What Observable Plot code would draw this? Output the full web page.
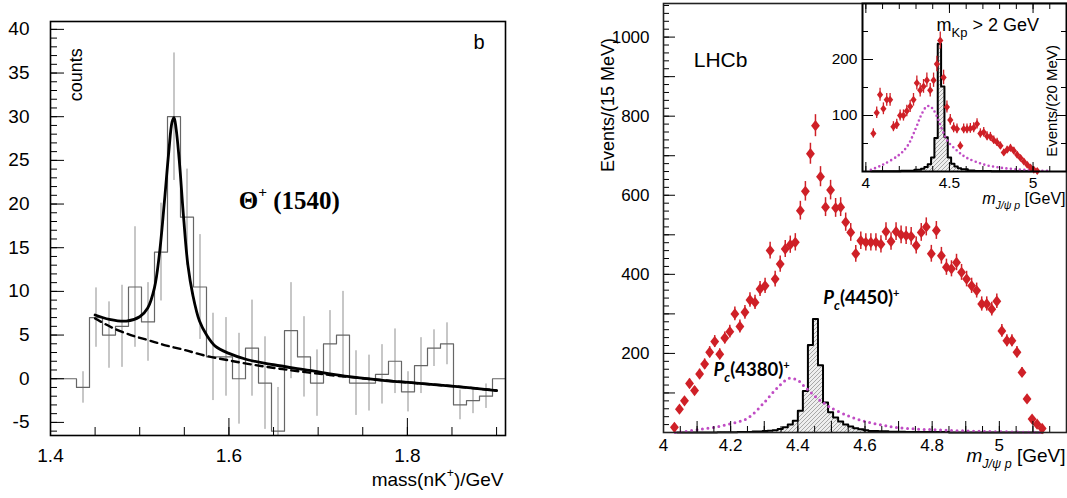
<!DOCTYPE html>
<html><head><meta charset="utf-8">
<script src="https://cdn.jsdelivr.net/npm/d3@7"></script>
<script src="https://cdn.jsdelivr.net/npm/@observablehq/plot@0.6"></script>
<style>
html,body{margin:0;padding:0;background:#fff;}
#wrap{position:relative;width:1067px;height:498px;overflow:hidden;background:#fff;}
#wrap > svg{position:absolute;}
</style></head><body><div id="wrap"></div>
<script>
// ================= LEFT PANEL: Theta+(1540) =================
const thetaRange = [1.40, 1.91];          // 35 equal bins across the frame
const thetaCounts = [0, 0, -1, 7, 5, 6, 10.5, 6.5, 14.5, 30, 18.5, 10.5, 2.5, 2.5, 0, 3.5, -0.5, -6, 5.5, 2.5,
                     -0.5, 4, 5, -0.5, -0.5, 0.5, 2, -1.5, 1.5, 3.5, 4, -3, -2.5, -2, 0];
const thetaErrors = [0, 0, 1.8, 3.4, 3.8, 4.7, 6.9, 4.5, 5.6, 7.3, 5.5, 6.0, 5.0, 4.5, 5.2, 5.5, 5.3, 5.0, 5.5, 4.6,
                     3.8, 3.8, 5.0, 3.7, 3.2, 3.4, 3.7, 2.3, 3.2, 2.1, 2.4, 1.7, 1.5, 1.4, 0];
const fitMass   = [1.45, 1.466, 1.485, 1.5, 1.509, 1.5165, 1.522, 1.5277, 1.5326, 1.5363, 1.5385, 1.5408, 1.5445, 1.549,
                   1.554, 1.5595, 1.567, 1.575, 1.585, 1.6, 1.62, 1.65, 1.69, 1.73, 1.77, 1.81, 1.85, 1.9];
const fitCounts = [7.3, 6.8, 6.6, 7.1, 8.1, 10.4, 14.2, 20.3, 26, 29.4, 29.9, 28.6, 24.8, 18.7,
                   13, 9.6, 6.6, 5.0, 3.7, 2.9, 2.2, 1.6, 0.95, 0.3, -0.15, -0.5, -0.85, -1.35];
const bgMass   = [1.45, 1.47, 1.49, 1.51, 1.53, 1.55, 1.575, 1.6, 1.63, 1.66, 1.69, 1.72, 1.77, 1.85, 1.9];
const bgCounts = [6.9, 5.8, 5.0, 4.4, 3.8, 3.3, 2.6, 2.1, 1.55, 1.1, 0.7, 0.35, -0.15, -0.85, -1.35];
const thetaYLabels = [-5, 0, 5, 10, 15, 20, 25, 30, 35, 40];
const thetaXLabels = [1.4, 1.6, 1.8];

// ================= RIGHT PANEL: LHCb =================
const lhcbBinStart = 4.025, lhcbBinWidth = 0.015;   // 15 MeV bins
const lhcbCounts = [13, 59, 80, 124, 106, 148, 173, 203, 230, 198,
  239, 255, 300, 268, 304, 335, 329, 363, 371, 460,
  388, 426, 464, 475, 481, 561, 610, 705, 776, 647,
  570, 613, 568, 570, 532, 506, 452, 485, 481, 481,
  481, 476, 508, 483, 508, 500, 498, 496, 473, 506,
  520, 452, 511, 447, 418, 414, 430, 405, 388, 371,
  359, 325, 325, 312, 332, 257, 232, 232, 203, 152,
  85, 34, 21, 10];
const pc4450Edges = [4.04, 4.16, 4.22, 4.265, 4.295, 4.31, 4.325, 4.34, 4.355, 4.37, 4.385, 4.40, 4.415, 4.43, 4.445,
  4.46, 4.475, 4.49, 4.505, 4.52, 4.535, 4.55, 4.565, 4.58, 4.595, 4.61, 4.64, 4.67, 4.72, 4.85, 5.13];
const pc4450Values = [0.3, 0.8, 1.5, 2.5, 3.5, 4.5, 6, 9, 13, 20, 30, 55, 105, 221, 287, 170, 76, 51, 38, 28,
  20, 15, 11, 8, 6, 4, 3, 2, 1, 0.3];
const pc4380Mass   = [4.035, 4.06, 4.1, 4.15, 4.2, 4.25, 4.3, 4.33, 4.35, 4.375, 4.40, 4.42, 4.44, 4.46, 4.48, 4.50,
  4.55, 4.60, 4.65, 4.70, 4.80, 4.90, 5.00, 5.13];
const pc4380Counts = [0, 2, 7, 13, 22, 36, 76, 105, 122, 137, 132, 116, 100, 85, 73, 62, 42, 28, 19, 12, 7, 4, 2, 0];
const mainYLabels = [200, 400, 600, 800, 1000];
const mainXLabels = [4, 4.2, 4.4, 4.6, 4.8, 5];

// ---- inset (m_Kp > 2 GeV) ----
const insetBinStart = 4.035, insetBinWidth = 0.02;  // 20 MeV bins
const insetCounts = [68, 105, 137, 112, 128, 128, 80, 84, 100, 100,
  108, 116, 128, 158, 145, 152, 163, 145, 163, 192,
  234, 168, 115, 92, 78, 76, 46, 76, 76, 77,
  78, 85, 68, 70, 63, 62, 56, 52, 46, 34,
  39, 42, 37, 30, 24, 18, 12, 7, 3, 1];
const insetPc4450Edges = [4.03, 4.21, 4.29, 4.33, 4.35, 4.37, 4.39, 4.41, 4.43, 4.45, 4.47, 4.49, 4.51, 4.53, 4.55,
  4.57, 4.61, 4.65, 4.75, 5.0];
const insetPc4450Values = [0.5, 1.5, 3, 5, 8, 13, 25, 60, 228, 152, 61, 25, 14, 9, 6, 4, 2, 1, 0.5];
const insetPc4380Mass   = [4.03, 4.1, 4.2, 4.25, 4.3, 4.33, 4.36, 4.38, 4.40, 4.43, 4.46, 4.49, 4.55, 4.6, 4.7, 4.8, 4.9, 5.0, 5.1];
const insetPc4380Counts = [3, 12, 30, 46, 78, 100, 115, 117, 112, 95, 72, 54, 36, 25, 13, 7, 4, 2, 1];
const insetXLabels = [4, 4.5, 5];
const insetYLabels = [100, 200];

// ================= helpers =================
const RED = "#cf2027", MAGENTA = "#c04cc4";
const SANS = "'Liberation Sans', Arial, Helvetica, sans-serif";
const tallDiamond = {
  draw(ctx, size) {
    const h = Math.sqrt(size / 1.56), w = 0.78 * h;
    ctx.moveTo(0, -h); ctx.lineTo(w, 0); ctx.lineTo(0, h); ctx.lineTo(-w, 0); ctx.closePath();
  }
};
function stepPoints(edges, values) {
  const pts = values.map((v, i) => ({x: edges[i], y: v}));
  pts.push({x: edges[edges.length - 1], y: values[values.length - 1]});
  return pts;
}
function rich(svg, marker, base, parts) {
  d3.select(svg).selectAll("text").filter(function () { return this.textContent === marker; })
    .each(function () {
      const el = d3.select(this);
      el.text(null);
      let cur = 0;
      for (const p of parts) {
        const shift = (p.shift || 0) * base;
        const ts = el.append("tspan").text(p.t).attr("dy", shift - cur);
        cur = shift;
        if (p.k) ts.attr("font-size", base * p.k);
        if (p.i) ts.attr("font-style", "italic");
        if (p.b) ts.attr("font-weight", p.b);
      }
    });
}
function addHatch(svg, id) {
  const defs = d3.select(svg).insert("defs", ":first-child");
  const p = defs.append("pattern").attr("id", id).attr("patternUnits", "userSpaceOnUse")
    .attr("width", 4).attr("height", 4);
  p.append("rect").attr("width", 4).attr("height", 4).attr("fill", "#eeeeee");
  p.append("path").attr("d", "M-1,1 l2,-2 M0,4 l4,-4 M3,5 l2,-2").attr("stroke", "#8a8a8a").attr("stroke-width", 0.7);
}
const wrap = document.getElementById("wrap");
function place(svg, left, top) { svg.style.left = left + "px"; svg.style.top = top + "px"; wrap.appendChild(svg); }

// ================= build left data =================
const nTheta = thetaCounts.length;
const thetaW = (thetaRange[1] - thetaRange[0]) / nTheta;
const thetaEdges = d3.range(nTheta + 1).map(k => thetaRange[0] + k * thetaW);
const thetaBins = thetaCounts.map((v, k) => ({mid: thetaEdges[k] + thetaW / 2, v, err: thetaErrors[k]}));
const thetaStep = stepPoints(thetaEdges, thetaCounts);
const fitPts = fitMass.map((x, i) => ({x, y: fitCounts[i]}));
const bgPts = bgMass.map((x, i) => ({x, y: bgCounts[i]}));
const blank = () => "";

const leftSvg = Plot.plot({
  width: 520, height: 498,
  marginLeft: 50, marginRight: 15, marginTop: 21, marginBottom: 63,
  style: {background: "transparent", fontFamily: SANS, overflow: "visible", color: "black"},
  x: {domain: thetaRange},
  y: {domain: [-6.5, 40.9]},
  marks: [
    Plot.ruleX(thetaBins.filter(d => d.err > 0), {x: "mid", y1: d => d.v - d.err, y2: d => d.v + d.err, stroke: "#8f8f8f", strokeWidth: 1, clip: true}),
    Plot.line(thetaStep, {x: "x", y: "y", curve: "step-after", stroke: "#666", strokeWidth: 1.2}),
    Plot.line(bgPts, {x: "x", y: "y", curve: "catmull-rom", stroke: "black", strokeWidth: 2.4, strokeDasharray: "7,5"}),
    Plot.line(fitPts, {x: "x", y: "y", curve: "catmull-rom", stroke: "black", strokeWidth: 2.8}),
    Plot.axisY(d3.range(-6, 41, 1), {tickSize: 7, dx: 7, tickFormat: blank, label: null}),
    Plot.axisY(thetaYLabels, {tickSize: 14, dx: 14, tickFormat: blank, label: null}),
    Plot.axisY(thetaYLabels, {tickSize: 0, tickPadding: 21, fontSize: 19, tickFormat: d => String(d), label: null}),
    Plot.axisX(d3.range(28, 39).map(k => k / 20), {tickSize: 8, dy: -8, tickFormat: blank, label: null}),
    Plot.axisX(thetaXLabels, {tickSize: 17, dy: -17, tickFormat: blank, label: null}),
    Plot.axisX(thetaXLabels, {tickSize: 0, tickPadding: 13, fontSize: 19, tickFormat: d => String(d), label: null}),
    Plot.frame({stroke: "black", strokeWidth: 1.6}),
    Plot.text(["THETA"], {x: 1.611, y: 20.4, text: d => d, textAnchor: "start", fontFamily: "'Liberation Serif', 'Times New Roman', serif", fontWeight: "bold", fontSize: 25}),
    Plot.text(["counts"], {x: 1.4289, y: 34.8, text: d => d, rotate: -90, fontSize: 18}),
    Plot.text(["b"], {frameAnchor: "top-right", dx: -21, dy: 13, text: d => d, fontSize: 20}),
    Plot.text(["MASSLABEL"], {frameAnchor: "bottom-right", dx: -2, dy: 50, textAnchor: "end", text: d => d, fontSize: 19})
  ]
});
rich(leftSvg, "THETA", 25, [{t: "Θ"}, {t: "+", k: 0.62, shift: -0.45}, {t: " (1540)", shift: 0}]);
rich(leftSvg, "MASSLABEL", 19, [{t: "mass(nK"}, {t: "+", k: 0.65, shift: -0.45}, {t: ")/GeV", shift: 0}]);
place(leftSvg, 0, 0);

// ================= build right main =================
const lhcbPts = lhcbCounts.map((v, i) => ({x: lhcbBinStart + lhcbBinWidth * (i + 0.5), y: v, e: Math.sqrt(v)}));
const pc4450Step = stepPoints(pc4450Edges, pc4450Values);
const pc4380Pts = pc4380Mass.map((x, i) => ({x, y: pc4380Counts[i]}));

const mainSvg = Plot.plot({
  width: 507, height: 498,
  marginLeft: 103, marginRight: 1, marginTop: 3, marginBottom: 66,
  style: {background: "transparent", fontFamily: SANS, overflow: "visible", color: "black"},
  x: {domain: [4.0, 5.2]},
  y: {domain: [0, 1085]},
  marks: [
    Plot.areaY(pc4450Step, {x: "x", y: "y", curve: "step-after", fill: "url(#hatchMain)"}),
    Plot.line(pc4450Step, {x: "x", y: "y", curve: "step-after", stroke: "black", strokeWidth: 2}),
    Plot.line(pc4380Pts, {x: "x", y: "y", curve: "catmull-rom", stroke: MAGENTA, strokeWidth: 3, strokeDasharray: "0,5.5", strokeLinecap: "round"}),
    Plot.ruleX(lhcbPts, {x: "x", y1: d => d.y - d.e, y2: d => d.y + d.e, stroke: RED, strokeWidth: 1.5, clip: true}),
    Plot.dot(lhcbPts, {x: "x", y: "y", symbol: tallDiamond, r: 4, fill: RED, stroke: "none"}),
    Plot.axisY(d3.range(0, 1081, 20), {tickSize: 6, dx: 6, tickFormat: blank, label: null}),
    Plot.axisY(d3.range(0, 1001, 100), {tickSize: 12, dx: 12, tickFormat: blank, label: null}),
    Plot.axisY(mainYLabels, {tickSize: 0, tickPadding: 14, fontSize: 17, tickFormat: d => String(d), label: null}),
    Plot.axisX(d3.range(80, 105).map(k => k / 20), {tickSize: 6, dy: -6, tickFormat: blank, label: null}),
    Plot.axisX(d3.range(40, 53).map(k => k / 10), {tickSize: 11, dy: -11, tickFormat: blank, label: null}),
    Plot.axisX(mainXLabels, {tickSize: 0, tickPadding: 6, fontSize: 17, tickFormat: d => String(d), label: null}),
    Plot.frame({stroke: "#222", strokeWidth: 1.6}),
    Plot.text(["LHCb"], {x: 4.09, y: 941, text: d => d, textAnchor: "start", fontSize: 21}),
    Plot.text(["Events/(15 MeV)"], {frameAnchor: "left", y: 659, dx: -55, rotate: -90, text: d => d, fontSize: 18}),
    Plot.text(["PC4380"], {x: 4.149, y: 157, text: d => d, textAnchor: "start", fontFamily: "Lato, 'Open Sans', sans-serif", fontWeight: "bold", fontSize: 18.5}),
    Plot.text(["PC4450"], {x: 4.476, y: 339, text: d => d, textAnchor: "start", fontFamily: "Lato, 'Open Sans', sans-serif", fontWeight: "bold", fontSize: 18.5}),
    Plot.text(["MAINX"], {frameAnchor: "bottom-right", dx: -1, dy: 29, textAnchor: "end", text: d => d, fontSize: 19})
  ]
});
addHatch(mainSvg, "hatchMain");
const pcParts = lbl => [{t: "P", i: true}, {t: "c", i: true, k: 0.7, shift: 0.3}, {t: "(" + lbl + ")", shift: 0}, {t: "+", k: 0.6, shift: -0.42}];
rich(mainSvg, "PC4380", 18.5, pcParts("4380"));
rich(mainSvg, "PC4450", 18.5, pcParts("4450"));
rich(mainSvg, "MAINX", 19, [{t: "m", i: true}, {t: "J/ψ p", i: true, k: 0.66, shift: 0.35}, {t: " [GeV]", shift: 0}]);
place(mainSvg, 560, 0);

// ================= inset =================
const insetPts = insetCounts.map((v, i) => ({x: insetBinStart + insetBinWidth * (i + 0.5), y: v, e: Math.sqrt(v)}));
const insetStep = stepPoints(insetPc4450Edges, insetPc4450Values);
const insetPc4380Pts = insetPc4380Mass.map((x, i) => ({x, y: insetPc4380Counts[i]}));

const insetSvg = Plot.plot({
  width: 267, height: 215,
  marginLeft: 62, marginRight: 1, marginTop: 3, marginBottom: 44,
  style: {background: "transparent", fontFamily: SANS, overflow: "visible", color: "black"},
  x: {domain: [3.98, 5.2]},
  y: {domain: [0, 300]},
  marks: [
    Plot.frame({fill: "white"}),
    Plot.areaY(insetStep, {x: "x", y: "y", curve: "step-after", fill: "url(#hatchInset)"}),
    Plot.line(insetStep, {x: "x", y: "y", curve: "step-after", stroke: "black", strokeWidth: 2}),
    Plot.line(insetPc4380Pts, {x: "x", y: "y", curve: "catmull-rom", stroke: MAGENTA, strokeWidth: 2.6, strokeDasharray: "0,4.5", strokeLinecap: "round"}),
    Plot.ruleX(insetPts, {x: "x", y1: d => d.y - d.e, y2: d => d.y + d.e, stroke: RED, strokeWidth: 1.3}),
    Plot.dot(insetPts, {x: "x", y: "y", symbol: tallDiamond, r: 2.8, fill: RED, stroke: "none"}),
    Plot.axisX(d3.range(40, 53).map(k => k / 10), {anchor: "bottom", tickSize: 5, dy: -5, tickFormat: blank, label: null}),
    Plot.axisX(insetXLabels, {anchor: "bottom", tickSize: 9, dy: -9, tickFormat: blank, label: null}),
    Plot.axisX(d3.range(40, 53).map(k => k / 10), {anchor: "top", tickSize: 5, dy: 5, tickFormat: blank, label: null}),
    Plot.axisX(insetXLabels, {anchor: "top", tickSize: 9, dy: 9, tickFormat: blank, label: null}),
    Plot.axisY(d3.range(50, 300, 50), {anchor: "left", tickSize: 6, dx: 6, tickFormat: blank, label: null}),
    Plot.axisY(insetYLabels, {anchor: "left", tickSize: 11, dx: 11, tickFormat: blank, label: null}),
    Plot.axisY(d3.range(50, 300, 50), {anchor: "right", tickSize: 6, dx: -6, tickFormat: blank, label: null}),
    Plot.axisY(insetYLabels, {anchor: "right", tickSize: 11, dx: -11, tickFormat: blank, label: null}),
    Plot.axisX(insetXLabels, {anchor: "bottom", tickSize: 0, tickPadding: 5, fontSize: 15.5, tickFormat: d => String(d), label: null}),
    Plot.axisY(insetYLabels, {anchor: "left", tickSize: 0, tickPadding: 5, fontSize: 15.5, tickFormat: d => String(d), label: null}),
    Plot.frame({stroke: "black", strokeWidth: 2}),
    Plot.text(["Events/(20 MeV)"], {x: 5.112, y: 126, rotate: -90, text: d => d, fontSize: 15}),
    Plot.text(["MKP"], {x: 4.423, y: 262, text: d => d, textAnchor: "start", fontSize: 18}),
    Plot.text(["INSETX"], {frameAnchor: "bottom-right", dx: -1, dy: 32, textAnchor: "end", text: d => d, fontSize: 16})
  ]
});
addHatch(insetSvg, "hatchInset");
rich(insetSvg, "MKP", 18, [{t: "m"}, {t: "Kp", k: 0.72, shift: 0.35}, {t: " > 2 GeV", shift: 0}]);
rich(insetSvg, "INSETX", 16, [{t: "m", i: true}, {t: "J/ψ p", i: true, k: 0.66, shift: 0.35}, {t: " [GeV]", shift: 0}]);
place(insetSvg, 800, 0);
</script></body></html>
